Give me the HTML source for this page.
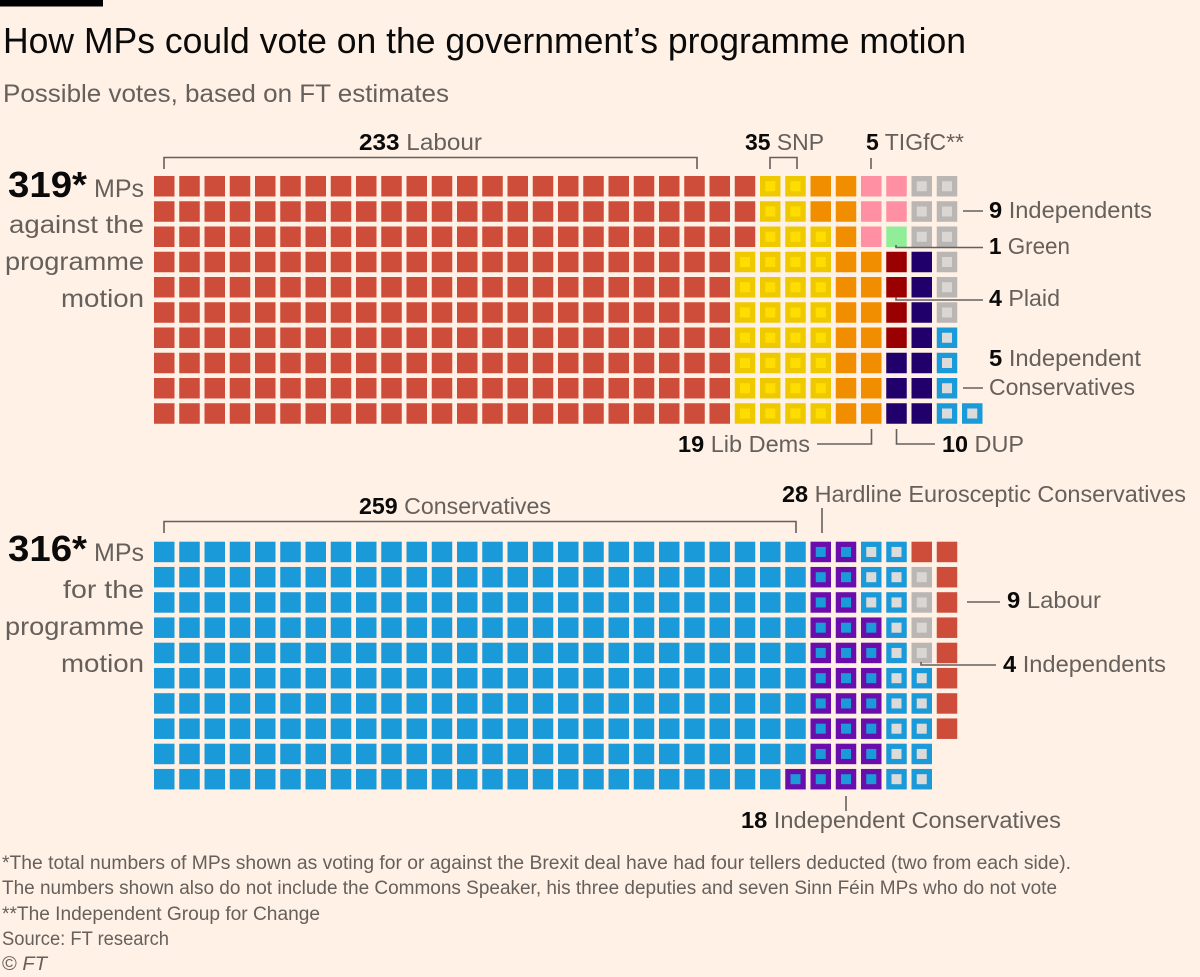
<!DOCTYPE html>
<html lang="en">
<head>
<meta charset="utf-8">
<title>How MPs could vote on the government's programme motion</title>
<style>
  html, body { margin: 0; padding: 0; background: #fff1e5; }
  svg { display: block; }
  text { font-family: "Liberation Sans", sans-serif; fill: #66605c; }
  .lbl { font-size: 23px; }
  .side { font-size: 25px; }
  .foot { font-size: 19px; }
  .num { font-weight: bold; fill: #0a0a0a; }
  .ln { stroke: #66605c; stroke-width: 1.6; fill: none; }
</style>
</head>
<body>
<svg id="chart" xmlns="http://www.w3.org/2000/svg" width="1200" height="977" viewBox="0 0 1200 977">
  <rect x="0" y="0" width="1200" height="977" fill="#fff1e5"/>
  <rect x="0" y="0" width="103" height="6.5" fill="#000"/>
  <text x="3" y="53" font-size="36" textLength="963" lengthAdjust="spacingAndGlyphs" style="fill:#0a0a0a">How MPs could vote on the government’s programme motion</text>
  <text x="3" y="102" font-size="25" textLength="446" lengthAdjust="spacingAndGlyphs">Possible votes, based on FT estimates</text>

  <g id="waffle-against"></g>
  <g id="waffle-for"></g>

  <!-- Against: left block -->
  <text x="8" y="197" class="num" font-size="36" textLength="79" lengthAdjust="spacingAndGlyphs">319*</text>
  <text x="94" y="197" class="side" textLength="50" lengthAdjust="spacingAndGlyphs">MPs</text>
  <text x="9" y="233" class="side" textLength="135" lengthAdjust="spacingAndGlyphs">against the</text>
  <text x="5" y="270" class="side" textLength="139" lengthAdjust="spacingAndGlyphs">programme</text>
  <text x="61" y="307" class="side" textLength="83" lengthAdjust="spacingAndGlyphs">motion</text>

  <!-- Against: annotations -->
  <text x="359" y="150" class="lbl" textLength="123" lengthAdjust="spacingAndGlyphs"><tspan class="num">233</tspan> Labour</text>
  <path class="ln" d="M164 169V157.500H697V169"/>
  <text x="745" y="150" class="lbl" textLength="79" lengthAdjust="spacingAndGlyphs"><tspan class="num">35</tspan> SNP</text>
  <path class="ln" d="M770 169V157.500H797V169"/>
  <text x="866" y="150" class="lbl" textLength="98" lengthAdjust="spacingAndGlyphs"><tspan class="num">5</tspan> TIGfC**</text>
  <path class="ln" d="M871 158V169"/>
  <path class="ln" d="M963 211H983"/>
  <text x="989" y="218" class="lbl" textLength="163" lengthAdjust="spacingAndGlyphs"><tspan class="num">9</tspan> Independents</text>
  <path class="ln" d="M896 245V247.500H983"/>
  <text x="989" y="254" class="lbl" textLength="81" lengthAdjust="spacingAndGlyphs"><tspan class="num">1</tspan> Green</text>
  <path class="ln" d="M896 297V300H983"/>
  <text x="989" y="306" class="lbl" textLength="71" lengthAdjust="spacingAndGlyphs"><tspan class="num">4</tspan> Plaid</text>
  <text x="989" y="366" class="lbl" textLength="152" lengthAdjust="spacingAndGlyphs"><tspan class="num">5</tspan> Independent</text>
  <text x="989" y="395" class="lbl" textLength="146" lengthAdjust="spacingAndGlyphs">Conservatives</text>
  <path class="ln" d="M963 388H983"/>
  <text x="678" y="452" class="lbl" textLength="132" lengthAdjust="spacingAndGlyphs"><tspan class="num">19</tspan> Lib Dems</text>
  <path class="ln" d="M817 444H871.500V429"/>
  <path class="ln" d="M896.500 429V444H935"/>
  <text x="942" y="452" class="lbl" textLength="82" lengthAdjust="spacingAndGlyphs"><tspan class="num">10</tspan> DUP</text>

  <!-- For: left block -->
  <text x="8" y="561" class="num" font-size="36" textLength="79" lengthAdjust="spacingAndGlyphs">316*</text>
  <text x="94" y="561" class="side" textLength="50" lengthAdjust="spacingAndGlyphs">MPs</text>
  <text x="63" y="598" class="side" textLength="81" lengthAdjust="spacingAndGlyphs">for the</text>
  <text x="5" y="635" class="side" textLength="139" lengthAdjust="spacingAndGlyphs">programme</text>
  <text x="61" y="672" class="side" textLength="83" lengthAdjust="spacingAndGlyphs">motion</text>

  <!-- For: annotations -->
  <text x="359" y="514" class="lbl" textLength="192" lengthAdjust="spacingAndGlyphs"><tspan class="num">259</tspan> Conservatives</text>
  <path class="ln" d="M164 533V521.500H796V533"/>
  <text x="782" y="502" class="lbl" textLength="404" lengthAdjust="spacingAndGlyphs"><tspan class="num">28</tspan> Hardline Eurosceptic Conservatives</text>
  <path class="ln" d="M822 508V533"/>
  <path class="ln" d="M967 602H1000"/>
  <text x="1007" y="608" class="lbl" textLength="94" lengthAdjust="spacingAndGlyphs"><tspan class="num">9</tspan> Labour</text>
  <path class="ln" d="M921 662V665H996"/>
  <text x="1003" y="672" class="lbl" textLength="163" lengthAdjust="spacingAndGlyphs"><tspan class="num">4</tspan> Independents</text>
  <path class="ln" d="M846 796V811"/>
  <text x="741" y="828" class="lbl" textLength="320" lengthAdjust="spacingAndGlyphs"><tspan class="num">18</tspan> Independent Conservatives</text>

  <!-- Footer -->
  <text x="2" y="869" class="foot" textLength="1069" lengthAdjust="spacingAndGlyphs">*The total numbers of MPs shown as voting for or against the Brexit deal have had four tellers deducted (two from each side).</text>
  <text x="2" y="894" class="foot" textLength="1055" lengthAdjust="spacingAndGlyphs">The numbers shown also do not include the Commons Speaker, his three deputies and seven Sinn Féin MPs who do not vote</text>
  <text x="2" y="920" class="foot" textLength="318" lengthAdjust="spacingAndGlyphs">**The Independent Group for Change</text>
  <text x="2" y="945" class="foot" textLength="167" lengthAdjust="spacingAndGlyphs">Source: FT research</text>
  <text x="2" y="970" class="foot" textLength="45" lengthAdjust="spacingAndGlyphs">© <tspan font-style="italic">FT</tspan></text>
</svg>
<script>
// Data: groups in fill order, seats per group, and which end of a column each group fills from
const againstParties = ['labour', 'snp', 'libdem', 'tigfc', 'green', 'plaid', 'dup', 'independent', 'indcon'];
const againstSeats = [233, 35, 19, 5, 1, 4, 10, 9, 5];
const againstFill = ['down', 'up', 'up', 'down', 'down', 'down', 'up', 'down', 'up'];

const forParties = ['conservative', 'hardline', 'indcon', 'independent', 'labour'];
const forSeats = [259, 28, 18, 4, 9];
const forFill = ['down', 'up', 'up', 'up', 'down'];

const partyOuter = {
  labour: '#ce4c3a', snp: '#efc900', libdem: '#f18e00', tigfc: '#ff8fa3', green: '#90ee98',
  plaid: '#9a0000', dup: '#20006b', independent: '#b9b6b4', indcon: '#1a9ad9',
  conservative: '#1a9ad9', hardline: '#6a0dad'
};
const partyInner = {
  snp: '#ffdd00', independent: '#d9d6d4', indcon: '#dddbd9', hardline: '#1a9ad9'
};

const ROWS = 10;
const CELL = 20.5;
const INNER = 10;
const PITCH = 25.25;
const LEFT = 154;
const xScale = col => LEFT + col * PITCH;
const yScale = (row, top) => top + row * PITCH;
const SVG_NS = 'http://www.w3.org/2000/svg';

function addRect(group, x, y, size, color) {
  const r = document.createElementNS(SVG_NS, 'rect');
  r.setAttribute('x', x);
  r.setAttribute('y', y);
  r.setAttribute('width', size);
  r.setAttribute('height', size);
  r.setAttribute('fill', color);
  group.appendChild(r);
  return r;
}

function drawWaffle(groupId, top, parties, seats, fill) {
  const group = document.getElementById(groupId);
  let col = 0, free0 = 0, free1 = ROWS - 1;
  parties.forEach((party, i) => {
    for (let n = 0; n < seats[i]; n++) {
      if (free0 > free1) { col++; free0 = 0; free1 = ROWS - 1; }
      const row = fill[i] === 'down' ? free0++ : free1--;
      const cell = addRect(group, xScale(col), yScale(row, top), CELL, partyOuter[party]);
      
      
      if (partyInner[party]) {
        const off = (CELL - INNER) / 2;
        const core = addRect(group, xScale(col) + off, yScale(row, top) + off, INNER, partyInner[party]);
        
        
      }
    }
  });
}

drawWaffle('waffle-against', 176, againstParties, againstSeats, againstFill);
drawWaffle('waffle-for', 541.7, forParties, forSeats, forFill);
</script>
</body>
</html>
